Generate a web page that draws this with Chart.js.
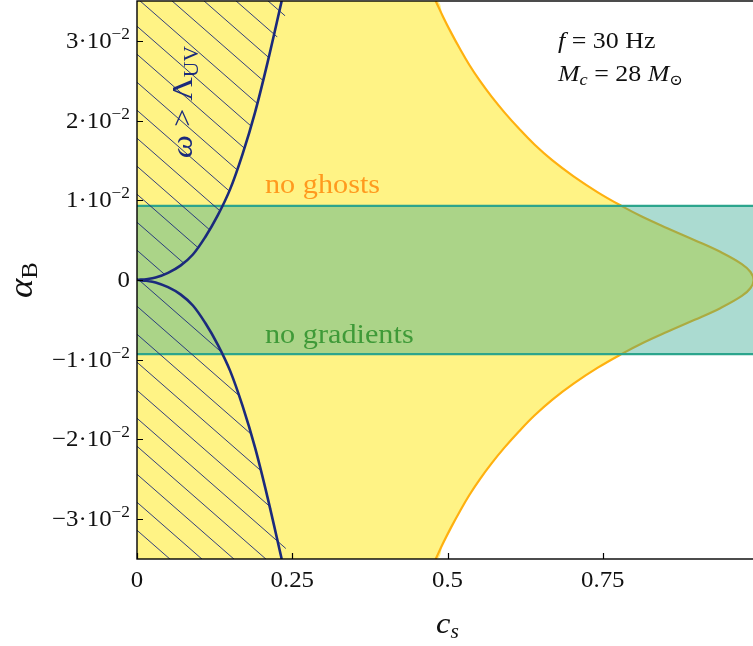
<!DOCTYPE html>
<html>
<head>
<meta charset="utf-8">
<script src="https://cdn.jsdelivr.net/npm/chart.js@4.4.1/dist/chart.umd.min.js"></script>
<style>
  html, body { margin: 0; padding: 0; background: #fff; overflow: hidden; width: 753px; height: 646px; }
  #wrap { position: relative; width: 770px; height: 646px; }
  canvas { display: block; }
</style>
</head>
<body>
<div id="wrap"><canvas id="c" width="770" height="646"></canvas></div>
<script>
// Axes: sound speed c_s (x) against braiding alpha_B (y)
const csRange = [0, 1];
const alphaRange = [-0.035, 0.035];
const xTicks = [0, 0.25, 0.5, 0.75, 1];
const xTickLabels = ['0', '0.25', '0.5', '0.75', '1'];
const yTicks = [-0.03, -0.02, -0.01, 0, 0.01, 0.02, 0.03];
const yTickMantissas = ['\u22123', '\u22122', '\u22121', '0', '1', '2', '3'];
const yTickExponent = '\u22122';

// omega > Lambda_UV boundary (upper and lower branches)
const uvCs         = [0, 0.015, 0.03, 0.05, 0.07, 0.09, 0.11, 0.13, 0.15, 0.17, 0.19, 0.21, 0.233];
const uvAlphaUpper = [0, 0.0001, 0.0003, 0.0009, 0.0018, 0.0032, 0.0054, 0.0081, 0.0114, 0.0158, 0.021, 0.0272, 0.035];
const uvAlphaLower = [0, -0.0001, -0.0003, -0.0009, -0.0018, -0.0032, -0.0054, -0.0081, -0.0114, -0.0158, -0.021, -0.0272, -0.035];

// no-ghost boundary (largest c_s for each alpha_B)
const ghostCs         = [0.481, 0.493, 0.506, 0.520, 0.535, 0.552, 0.571, 0.592, 0.615, 0.640, 0.669, 0.703, 0.742, 0.780, 0.812, 0.854, 0.898, 0.940, 0.974, 0.988, 0.993];
const ghostAlphaUpper = [0.035, 0.033, 0.031, 0.029, 0.027, 0.025, 0.023, 0.021, 0.019, 0.017, 0.015, 0.013, 0.011, 0.0093, 0.008, 0.0065, 0.005, 0.0035, 0.002, 0.001, 0];
const ghostAlphaLower = [-0.035, -0.033, -0.031, -0.029, -0.027, -0.025, -0.023, -0.021, -0.019, -0.017, -0.015, -0.013, -0.011, -0.0093, -0.008, -0.0065, -0.005, -0.0035, -0.002, -0.001, 0];

// no-gradient-instability band in alpha_B
const gradientBand = [-0.0093, 0.0093];

const NAVY = '#1b2a7c';
const SERIF = '"Liberation Serif", "DejaVu Serif", serif';
const TEXT_SX = 1.08;

const pts = (xs, ys) => xs.map((x, i) => ({ x: x, y: ys[i] }));

const uvLine = pts(uvCs, uvAlphaUpper).reverse().concat(pts(uvCs, uvAlphaLower).slice(1));
const hatchShape = [{ x: csRange[0], y: alphaRange[1] }].concat(uvLine, [{ x: csRange[0], y: alphaRange[0] }]);

const ghostLine = pts(ghostCs, ghostAlphaUpper).concat(pts(ghostCs, ghostAlphaLower).reverse().slice(1));
const ghostShape = [{ x: csRange[0], y: alphaRange[1] }].concat(ghostLine, [{ x: csRange[0], y: alphaRange[0] }]);

const bandShape = [
  { x: csRange[0], y: gradientBand[1] }, { x: csRange[1], y: gradientBand[1] },
  { x: csRange[1], y: gradientBand[0] }, { x: csRange[0], y: gradientBand[0] }
];

const canvas = document.getElementById('c');
const ctx = canvas.getContext('2d');

function hatchPattern() {
  const t = document.createElement('canvas');
  t.width = 32; t.height = 28;
  const g = t.getContext('2d');
  g.strokeStyle = NAVY;
  g.lineWidth = 0.9;
  for (const dx of [-32, 0, 32]) {
    g.beginPath(); g.moveTo(dx - 32, -28); g.lineTo(dx + 64, 56); g.stroke();
  }
  const p = ctx.createPattern(t, 'repeat');
  p.setTransform(new DOMMatrix([1, 0, 0, 1, 11, 0]));
  return p;
}

function font(size, italic) { return (italic ? 'italic ' : '') + size + 'px ' + SERIF; }

function runsWidth(c, runs) {
  let w = 0;
  for (const r of runs) { c.font = font(r.size, r.italic); w += c.measureText(r.text).width; }
  return w;
}

// draws a sequence of text runs (for sub/superscripts), optionally rotated
function drawRuns(c, runs, x, y, opt) {
  const o = Object.assign({ align: 'left', angle: 0, color: '#111' }, opt || {});
  c.save();
  c.translate(x, y);
  c.rotate(o.angle);
  c.scale(TEXT_SX, 1);
  c.fillStyle = o.color;
  c.textBaseline = 'alphabetic';
  c.textAlign = 'left';
  const w = runsWidth(c, runs);
  let cx = o.align === 'center' ? -w / 2 : o.align === 'right' ? -w : 0;
  for (const r of runs) {
    c.font = font(r.size, r.italic);
    c.fillText(r.text, cx, -(r.rise || 0));
    cx += c.measureText(r.text).width;
  }
  c.restore();
}

const decor = {
  id: 'decor',
  afterDatasetsDraw(chart) {
    const c = chart.ctx;
    const a = chart.chartArea;
    const xs = chart.scales.x, ys = chart.scales.y;

    // region labels
    drawRuns(c, [{ text: 'no ghosts', size: 28 }], 265, 193, { color: '#ff9a1e' });
    drawRuns(c, [{ text: 'no gradients', size: 28 }], 265, 343, { color: '#3f9a38' });
    drawRuns(c, [
      { text: '\u03C9', size: 30, italic: true },
      { text: ' > \u039B', size: 30 },
      { text: 'UV', size: 20, rise: -6 }
    ], 192, 102, { align: 'center', angle: -Math.PI / 2, color: NAVY });

    // parameters box
    drawRuns(c, [
      { text: 'f', size: 24, italic: true },
      { text: ' = 30 Hz', size: 24 }
    ], 558, 48);
    drawRuns(c, [
      { text: 'M', size: 24, italic: true },
      { text: 'c', size: 17, italic: true, rise: -4 },
      { text: ' = 28 ', size: 24 },
      { text: 'M', size: 24, italic: true },
      { text: '\u2299', size: 15, rise: -4 }
    ], 558, 81);

    // frame
    c.save();
    c.strokeStyle = '#000';
    c.lineWidth = 1.4;
    c.strokeRect(a.left, a.top, a.right - a.left, a.bottom - a.top);

    // inward ticks
    c.lineWidth = 1.2;
    c.beginPath();
    for (const v of xTicks) {
      const px = Math.round(xs.getPixelForValue(v)) + 0.5;
      c.moveTo(px, a.bottom); c.lineTo(px, a.bottom - 6);
    }
    for (const v of yTicks) {
      const py = Math.round(ys.getPixelForValue(v)) + 0.5;
      c.moveTo(a.left, py); c.lineTo(a.left + 6, py);
    }
    c.stroke();
    c.restore();

    // tick labels
    xTicks.forEach((v, i) => {
      drawRuns(c, [{ text: xTickLabels[i], size: 23 }], xs.getPixelForValue(v), 587, { align: 'center' });
    });
    yTicks.forEach((v, i) => {
      const py = ys.getPixelForValue(v) + 7;
      const m = yTickMantissas[i];
      const runs = m === '0'
        ? [{ text: '0', size: 23 }]
        : [{ text: m + '\u00B710', size: 23 }, { text: yTickExponent, size: 16, rise: 9 }];
      drawRuns(c, runs, 130, py, { align: 'right' });
    });

    // axis titles
    drawRuns(c, [
      { text: 'c', size: 30, italic: true },
      { text: 's', size: 20, italic: true, rise: -5 }
    ], (a.left + a.right) / 2, 633, { align: 'center' });
    drawRuns(c, [
      { text: '\u03B1', size: 34, italic: true },
      { text: 'B', size: 23, rise: -5 }
    ], 32, (a.top + a.bottom) / 2, { align: 'center', angle: -Math.PI / 2 });
  }
};

new Chart(ctx, {
  type: 'line',
  data: {
    datasets: [
      { // omega > Lambda_UV boundary curve
        data: uvLine, borderColor: NAVY, borderWidth: 2.6, tension: 0.35, fill: false, pointRadius: 0
      },
      { // hatched region beyond the UV cutoff
        data: hatchShape, borderColor: 'rgba(0,0,0,0)', borderWidth: 0, tension: 0.35,
        fill: 'shape', backgroundColor: hatchPattern(), pointRadius: 0
      },
      { // no-gradient band
        data: bandShape, borderColor: '#2ca58d', borderWidth: 2.2, tension: 0,
        fill: 'shape', backgroundColor: 'rgba(44,165,141,0.4)', pointRadius: 0
      },
      { // no-ghost boundary curve
        data: ghostLine, borderColor: '#ffb00f', borderWidth: 2.2, tension: 0.4, fill: false, pointRadius: 0
      },
      { // no-ghost region
        data: ghostShape, borderColor: 'rgba(0,0,0,0)', borderWidth: 0, tension: 0.4,
        fill: 'shape', backgroundColor: '#fff385', pointRadius: 0
      }
    ]
  },
  options: {
    responsive: false,
    animation: false,
    events: [],
    layout: { padding: { left: 0, right: 12, top: 1, bottom: 0 } },
    plugins: { legend: { display: false }, tooltip: { enabled: false } },
    scales: {
      x: {
        type: 'linear', min: csRange[0], max: csRange[1],
        grid: { display: false }, border: { display: false }, ticks: { display: false },
        afterFit(s) { s.height = 87; }
      },
      y: {
        type: 'linear', min: alphaRange[0], max: alphaRange[1],
        grid: { display: false }, border: { display: false }, ticks: { display: false },
        afterFit(s) { s.width = 137; }
      }
    }
  },
  plugins: [decor]
});
</script>
</body>
</html>
